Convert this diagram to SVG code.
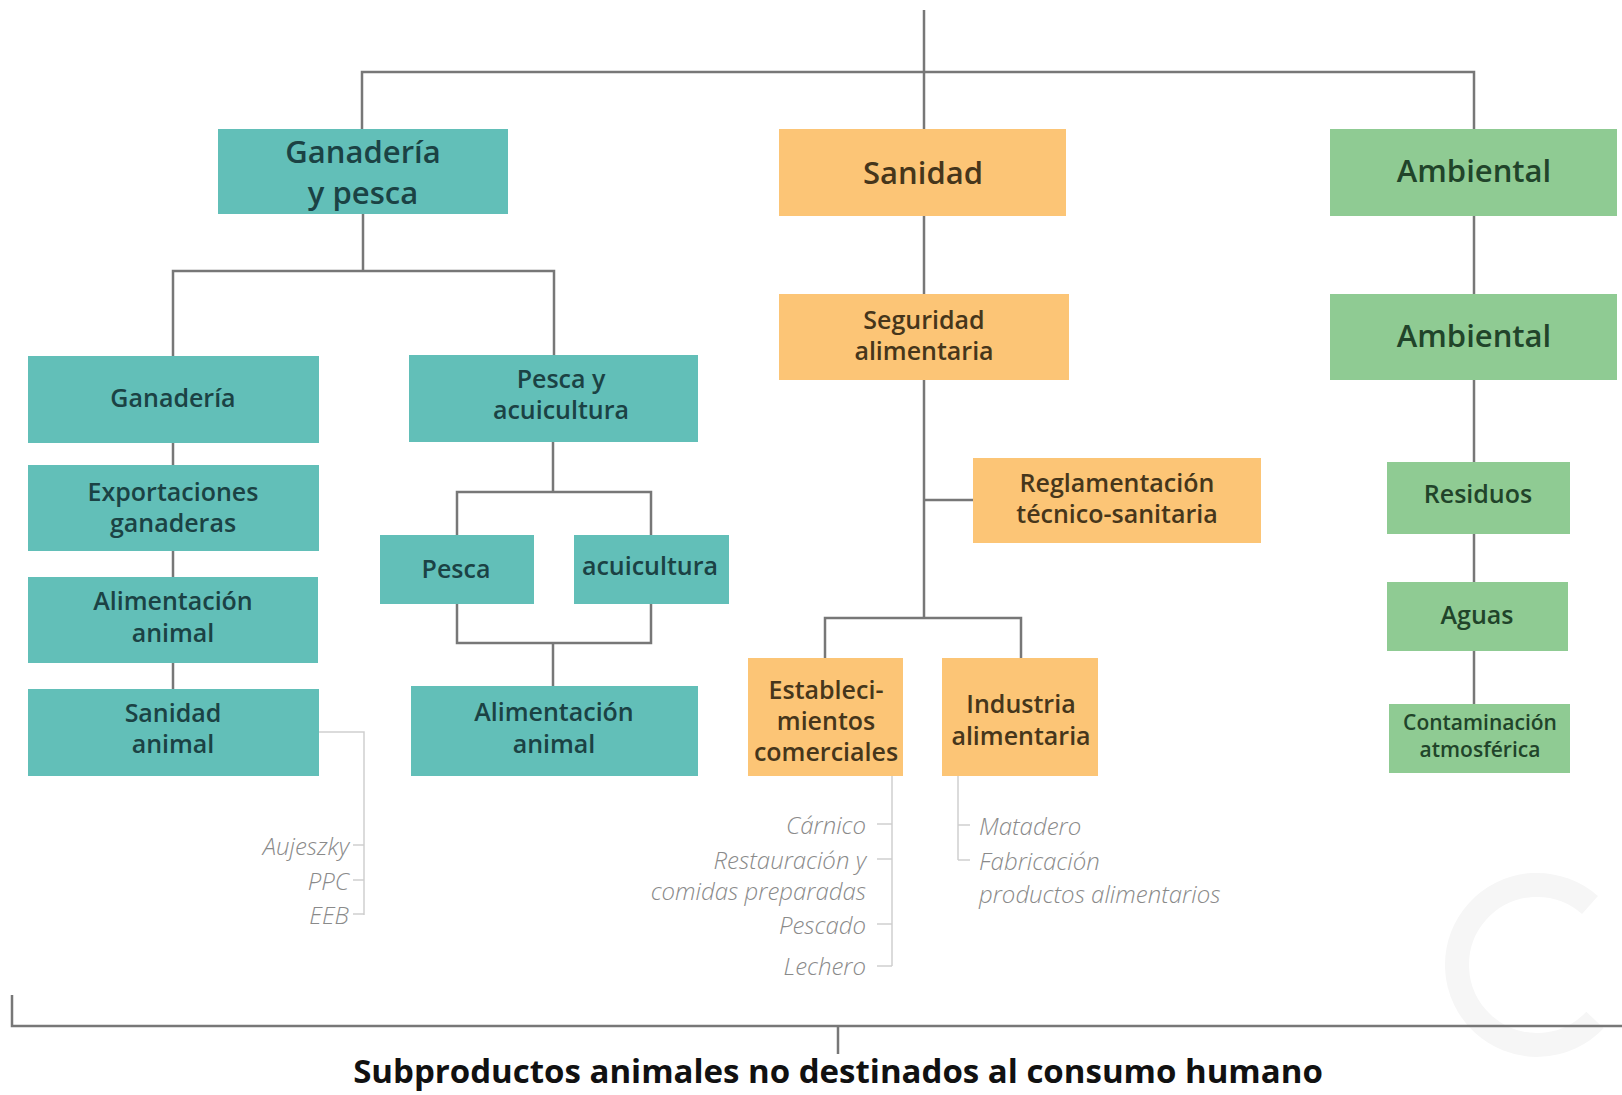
<svg xmlns="http://www.w3.org/2000/svg" width="1622" height="1095" viewBox="0 0 1622 1095">
<style>
.teal{fill:#62bfb8}
.orange{fill:#fcc576}
.green{fill:#8fcb93}
.t{font-family:"Open Sans","Liberation Sans",sans-serif;text-anchor:middle;dominant-baseline:central;font-weight:600}
.tt{fill:#1b4244}
.to{fill:#46361b}
.tg{fill:#21442a}
.f1{font-size:31px}
.f2{font-size:25px}
.f3{font-size:21px}
.conn{stroke:#777;stroke-width:2.5;fill:none}
.thin{stroke:#cfcfcf;stroke-width:1.5;fill:none}
.lab{font-family:"Open Sans","Liberation Sans",sans-serif;font-style:italic;font-weight:300;font-size:24px;fill:#8a8a8a;dominant-baseline:central}
.bot{font-family:"Open Sans","Liberation Sans",sans-serif;font-weight:700;font-size:33px;fill:#111;text-anchor:middle}
</style>
<rect width="1622" height="1095" fill="#fff"/>
<g id="watermark"><path d="M1590 905 A80 80 0 1 0 1595 1020" stroke="#f6f6f6" stroke-width="24" fill="none"/></g>
<g id="connectors">
<path class="conn" d="M924 10 V129 M362 129 V72 H1474 V129"/>
<path class="conn" d="M363 214 V271 M173 356 V271 H554 V355"/>
<path class="conn" d="M173 443 V465 M173 551 V577 M173 663 V689"/>
<path class="conn" d="M553 442 V492 M457 535 V492 H651 V535 M457 604 V643 H651 V604 M553 643 V686"/>
<path class="conn" d="M924 216 V294 M924 380 V618 M924 500 H973 M825 658 V618 H1021 V658"/>
<path class="conn" d="M1474 216 V294 M1474 380 V462 M1474 534 V582 M1474 651 V704"/>
<path class="thin" d="M319 732 H364 V915 M353 845 H364 M353 880 H364 M353 914 H364"/>
<path class="thin" d="M892 776 V966 M877 824 H892 M877 859 H892 M877 924 H892 M877 966 H892"/>
<path class="thin" d="M958 776 V860 M958 825 H970 M958 860 H970"/>
<path class="conn" d="M12 995 V1026 H1622 M838 1026 V1054"/>
</g>
<g id="n-ganaderia-pesca"><rect class="teal" x="218" y="129" width="290" height="85"/><text class="t tt f1" x="363" y="151">Ganadería</text><text class="t tt f1" x="363" y="192">y pesca</text></g>
<g id="n-sanidad"><rect class="orange" x="779" y="129" width="287" height="87"/><text class="t to f1" x="923" y="172">Sanidad</text></g>
<g id="n-ambiental"><rect class="green" x="1330" y="129" width="287" height="87"/><text class="t tg f1" x="1474" y="170">Ambiental</text></g>
<g id="n-ganaderia"><rect class="teal" x="28" y="356" width="291" height="87"/><text class="t tt f2" x="173" y="397">Ganadería</text></g>
<g id="n-pesca-acuicultura"><rect class="teal" x="409" y="355" width="289" height="87"/><text class="t tt f2" x="561" y="378">Pesca y</text><text class="t tt f2" x="561" y="409">acuicultura</text></g>
<g id="n-exportaciones"><rect class="teal" x="28" y="465" width="291" height="86"/><text class="t tt f2" x="173" y="491">Exportaciones</text><text class="t tt f2" x="173" y="522">ganaderas</text></g>
<g id="n-alimentacion-1"><rect class="teal" x="28" y="577" width="290" height="86"/><text class="t tt f2" x="173" y="600">Alimentación</text><text class="t tt f2" x="173" y="632">animal</text></g>
<g id="n-sanidad-animal"><rect class="teal" x="28" y="689" width="291" height="87"/><text class="t tt f2" x="173" y="712">Sanidad</text><text class="t tt f2" x="173" y="743">animal</text></g>
<g id="n-pesca"><rect class="teal" x="380" y="535" width="154" height="69"/><text class="t tt f2" x="456" y="568">Pesca</text></g>
<g id="n-acuicultura"><rect class="teal" x="574" y="535" width="155" height="69"/><text class="t tt f2" x="650" y="565">acuicultura</text></g>
<g id="n-alimentacion-2"><rect class="teal" x="411" y="686" width="287" height="90"/><text class="t tt f2" x="554" y="711">Alimentación</text><text class="t tt f2" x="554" y="743">animal</text></g>
<g id="n-seguridad"><rect class="orange" x="779" y="294" width="290" height="86"/><text class="t to f2" x="924" y="319">Seguridad</text><text class="t to f2" x="924" y="350">alimentaria</text></g>
<g id="n-reglamentacion"><rect class="orange" x="973" y="458" width="288" height="85"/><text class="t to f2" x="1117" y="482">Reglamentación</text><text class="t to f2" x="1117" y="513">técnico-sanitaria</text></g>
<g id="n-establecimientos"><rect class="orange" x="748" y="658" width="155" height="118"/><text class="t to f2" x="826" y="689">Estableci-</text><text class="t to f2" x="826" y="720">mientos</text><text class="t to f2" x="826" y="751">comerciales</text></g>
<g id="n-industria"><rect class="orange" x="942" y="658" width="156" height="118"/><text class="t to f2" x="1021" y="703">Industria</text><text class="t to f2" x="1021" y="735">alimentaria</text></g>
<g id="n-ambiental-2"><rect class="green" x="1330" y="294" width="287" height="86"/><text class="t tg f1" x="1474" y="335">Ambiental</text></g>
<g id="n-residuos"><rect class="green" x="1387" y="462" width="183" height="72"/><text class="t tg f2" x="1478" y="493">Residuos</text></g>
<g id="n-aguas"><rect class="green" x="1387" y="582" width="181" height="69"/><text class="t tg f2" x="1477" y="614">Aguas</text></g>
<g id="n-contaminacion"><rect class="green" x="1389" y="704" width="181" height="69"/><text class="t tg f3" x="1480" y="722">Contaminación</text><text class="t tg f3" x="1480" y="749">atmosférica</text></g>
<g id="labels-sanidad-animal" text-anchor="end"><text class="lab" x="349" y="845">Aujeszky</text><text class="lab" x="349" y="880">PPC</text><text class="lab" x="349" y="914">EEB</text></g>
<g id="labels-establecimientos" text-anchor="end"><text class="lab" x="866" y="824">Cárnico</text><text class="lab" x="866" y="859">Restauración y</text><text class="lab" x="866" y="890">comidas preparadas</text><text class="lab" x="866" y="924">Pescado</text><text class="lab" x="866" y="965">Lechero</text></g>
<g id="labels-industria"><text class="lab" x="979" y="825">Matadero</text><text class="lab" x="979" y="860">Fabricación</text><text class="lab" x="979" y="893">productos alimentarios</text></g>
<g id="footer"><text class="bot" x="838" y="1083">Subproductos animales no destinados al consumo humano</text></g>
</svg>
